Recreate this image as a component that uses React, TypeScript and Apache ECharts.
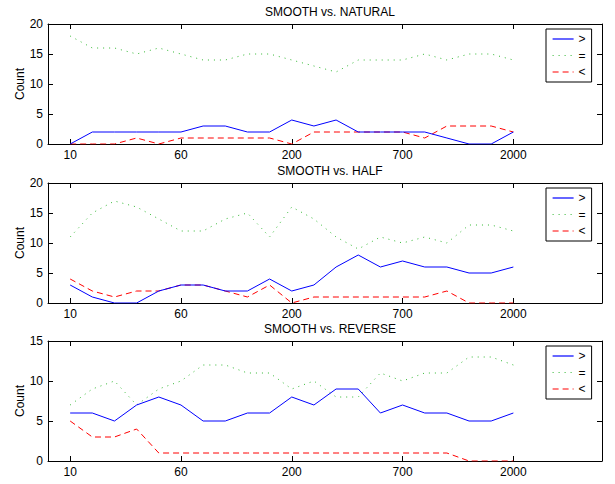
import React, { useEffect, useRef } from "react";
import * as echarts from "echarts";

const xIndex = [0, 1, 2, 3, 4, 5, 6, 7, 8, 9, 10, 11, 12, 13, 14, 15, 16, 17, 18, 19, 20];
const tickPositions = [0, 5, 10, 15, 20];
const tickLabels = ["10", "60", "200", "700", "2000"];
const seriesNames = [">", "=", "<"];
const panelTitles = ["SMOOTH vs. NATURAL", "SMOOTH vs. HALF", "SMOOTH vs. REVERSE"];
const panelYMax = [20, 20, 15];

// SMOOTH vs. NATURAL
const naturalGreater = [0, 2, 2, 2, 2, 2, 3, 3, 2, 2, 4, 3, 4, 2, 2, 2, 2, 1, 0, 0, 2];
const naturalEqual = [18, 16, 16, 15, 16, 15, 14, 14, 15, 15, 14, 13, 12, 14, 14, 14, 15, 14, 15, 15, 14];
const naturalLess = [0, 0, 0, 1, 0, 1, 1, 1, 1, 1, 0, 2, 2, 2, 2, 2, 1, 3, 3, 3, 2];

// SMOOTH vs. HALF
const halfGreater = [3, 1, 0, 0, 2, 3, 3, 2, 2, 4, 2, 3, 6, 8, 6, 7, 6, 6, 5, 5, 6];
const halfEqual = [11, 15, 17, 16, 14, 12, 12, 14, 15, 11, 16, 14, 11, 9, 11, 10, 11, 10, 13, 13, 12];
const halfLess = [4, 2, 1, 2, 2, 3, 3, 2, 1, 3, 0, 1, 1, 1, 1, 1, 1, 2, 0, 0, 0];

// SMOOTH vs. REVERSE
const reverseGreater = [6, 6, 5, 7, 8, 7, 5, 5, 6, 6, 8, 7, 9, 9, 6, 7, 6, 6, 5, 5, 6];
const reverseEqual = [7, 9, 10, 7, 9, 10, 12, 12, 11, 11, 9, 10, 8, 8, 11, 10, 11, 11, 13, 13, 12];
const reverseLess = [5, 3, 3, 4, 1, 1, 1, 1, 1, 1, 1, 1, 1, 1, 1, 1, 1, 1, 0, 0, 0];

const panelData = [
  [naturalGreater, naturalEqual, naturalLess],
  [halfGreater, halfEqual, halfLess],
  [reverseGreater, reverseEqual, reverseLess],
];

const FONT = "'Liberation Sans', Arial, Helvetica, sans-serif";
const gridTops = [24, 183, 341];
const gridHeight = 120;
const seriesStyles = [
  { color: "#0000ff", type: "solid" as any },
  { color: "#33b833", type: [1, 5] as any },
  { color: "#ff0000", type: [6, 4] as any },
];

export default function App() {
  const ref = useRef<HTMLDivElement>(null);

  useEffect(() => {
    if (!ref.current) return;
    const chart = echarts.init(ref.current, null, { renderer: "svg" });

    const grids: any[] = [];
    const xAxes: any[] = [];
    const yAxes: any[] = [];
    const titles: any[] = [];
    const legends: any[] = [];
    const series: any[] = [];

    panelTitles.forEach((t, p) => {
      grids.push({ left: 48, width: 554, top: gridTops[p], height: gridHeight });
      titles.push({
        text: t,
        left: 325,
        textAlign: "center",
        top: gridTops[p] - 23,
        textStyle: { fontFamily: FONT, fontSize: 12, fontWeight: "normal", color: "#000" },
      });
      const axisLine = { show: true, onZero: false, lineStyle: { color: "#000", width: 1 } };
      const tick = { show: true, inside: true, length: 5, lineStyle: { color: "#000" }, customValues: tickPositions };
      xAxes.push({
        type: "value",
        gridIndex: p,
        min: -1,
        max: 24,
        position: "bottom",
        axisLine,
        axisTick: tick,
        splitLine: { show: false },
        axisLabel: {
          customValues: tickPositions,
          formatter: (v: number) => tickLabels[tickPositions.indexOf(v)] ?? "",
          fontFamily: FONT,
          fontSize: 12,
          color: "#000",
          margin: 5,
        },
      });
      xAxes.push({
        type: "value",
        gridIndex: p,
        min: -1,
        max: 24,
        position: "top",
        axisLine,
        axisTick: tick,
        splitLine: { show: false },
        axisLabel: { show: false, customValues: tickPositions },
      });
      const yTick = { show: true, inside: true, length: 5, lineStyle: { color: "#000" } };
      yAxes.push({
        type: "value",
        gridIndex: p,
        min: 0,
        max: panelYMax[p],
        interval: 5,
        position: "left",
        name: "Count",
        nameLocation: "middle",
        nameGap: 22,
        nameMoveOverlap: false,
        nameTextStyle: { fontFamily: FONT, fontSize: 12, color: "#000" },
        axisLine,
        axisTick: yTick,
        splitLine: { show: false },
        axisLabel: { fontFamily: FONT, fontSize: 12, color: "#000", margin: 5 },
      });
      yAxes.push({
        type: "value",
        gridIndex: p,
        min: 0,
        max: panelYMax[p],
        interval: 5,
        position: "right",
        axisLine,
        axisTick: yTick,
        splitLine: { show: false },
        axisLabel: { show: false },
      });
      legends.push({
        orient: "vertical",
        left: 546,
        top: gridTops[p] + 5,
        data: seriesNames,
        itemWidth: 21,
        itemHeight: 10,
        itemGap: 4.5,
        itemTextGap: 6,
        padding: [4, 6, 4, 6],
        borderColor: "#000",
        borderWidth: 1,
        backgroundColor: "#fff",
        itemStyle: { opacity: 0 },
        lineStyle: { width: 1.2 },
        textStyle: { fontFamily: FONT, fontSize: 12, color: "#000" },
        selectedMode: false,
      });
      seriesNames.forEach((name, s) => {
        const st = seriesStyles[s];
        series.push({
          type: "line",
          name,
          xAxisIndex: p * 2,
          yAxisIndex: p * 2,
          data: xIndex.map((x, i) => [x, panelData[p][s][i]]),
          symbol: "none",
          showSymbol: false,
          lineStyle: { color: st.color, width: 1, type: st.type },
          itemStyle: { color: st.color },
          color: st.color,
          z: 3 - s,
        });
      });
    });

    chart.setOption({
      animation: false,
      backgroundColor: "#fff",
      title: titles,
      grid: grids,
      xAxis: xAxes,
      yAxis: yAxes,
      legend: legends,
      series,
    });

    return () => chart.dispose();
  }, []);

  return (
    <div
      ref={ref}
      style={{ position: "fixed", left: 0, top: 0, width: 615, height: 484, background: "#fff" }}
    />
  );
}
